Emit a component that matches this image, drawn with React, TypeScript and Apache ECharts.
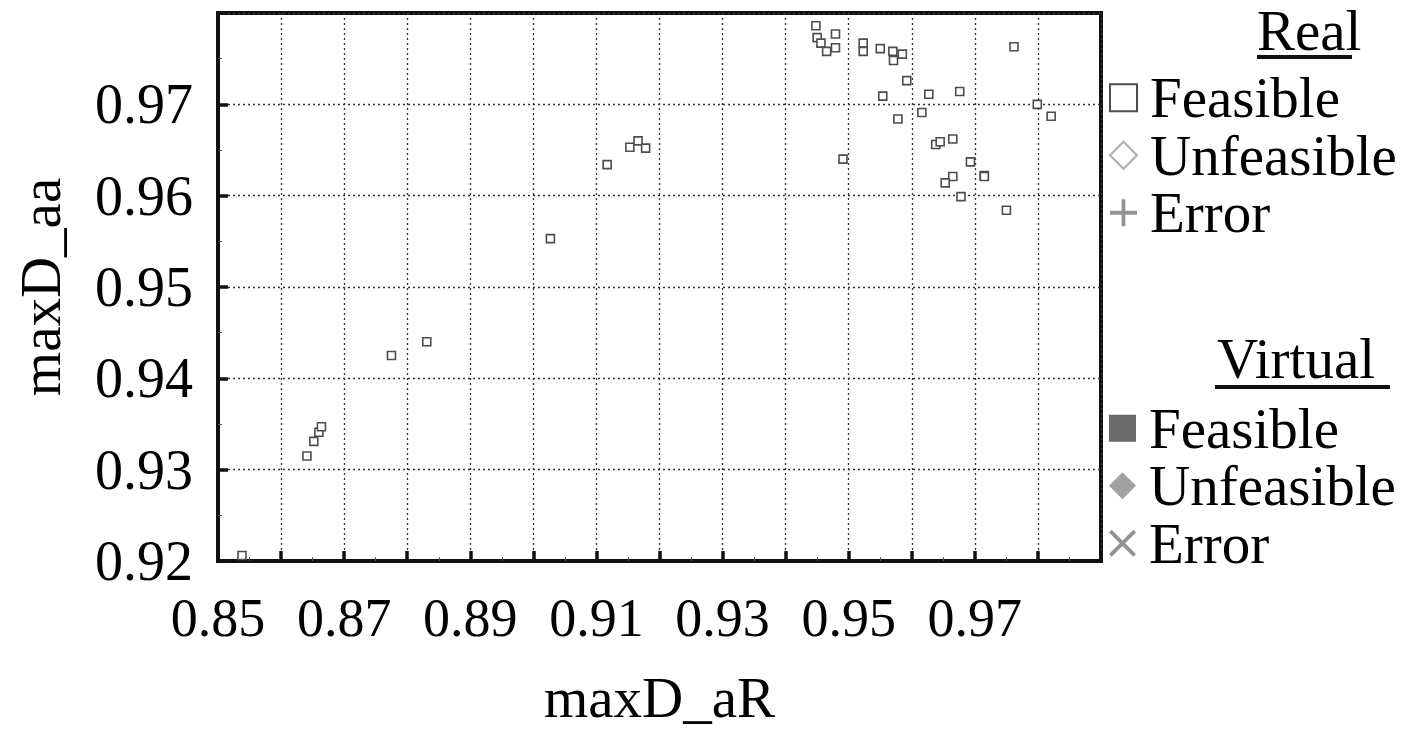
import React, { useEffect, useRef } from "react";
import * as echarts from "echarts";

// Real / Feasible observations (maxD_aR, maxD_aa)
const realFeasibleAR = [
  0.8538, 0.8641, 0.8652, 0.8660, 0.8664, 0.8775, 0.8831, 0.9027, 0.9117, 0.9153,
  0.9166, 0.9178, 0.9448, 0.9450, 0.9456, 0.9465, 0.9479, 0.9479, 0.9523, 0.9523,
  0.9550, 0.9570, 0.9571, 0.9585, 0.9592, 0.9554, 0.9627, 0.9676, 0.9762, 0.9799,
  0.9821, 0.9616, 0.9578, 0.9638, 0.9645, 0.9665, 0.9491, 0.9693, 0.9665, 0.9653,
  0.9715, 0.9715, 0.9678, 0.9750,
];
const realFeasibleAA = [
  0.9206, 0.9315, 0.9331, 0.9341, 0.9347, 0.9425, 0.9440, 0.9553, 0.9634, 0.9653,
  0.9660, 0.9652, 0.9786, 0.9773, 0.9767, 0.9758, 0.9777, 0.9762, 0.9767, 0.9758,
  0.9761, 0.9758, 0.9748, 0.9755, 0.9726, 0.9709, 0.9711, 0.9714, 0.9763, 0.9700,
  0.9687, 0.9691, 0.9684, 0.9656, 0.9659, 0.9662, 0.9640, 0.9637, 0.9621, 0.9614,
  0.9622, 0.9621, 0.9599, 0.9584,
];
// No observations in the other groups
const realUnfeasible: number[][] = [];
const realError: number[][] = [];
const virtualFeasible: number[][] = [];
const virtualUnfeasible: number[][] = [];
const virtualError: number[][] = [];

const groupTitles = ["Real", "Virtual"];
const xLabelValues = [0.85, 0.87, 0.89, 0.91, 0.93, 0.95, 0.97];
const yLabelValues = [0.92, 0.93, 0.94, 0.95, 0.96, 0.97];

const FONT = "'Liberation Serif', 'Times New Roman', serif";
const PLUS = "path://M4.3,0H5.7V4.3H10V5.7H5.7V10H4.3V5.7H0V4.3H4.3Z";
const CROSS = "path://M1,0L5,4L9,0L10,1L6,5L10,9L9,10L5,6L1,10L0,9L4,5L0,1Z";

export default function App() {
  const ref = useRef<HTMLDivElement>(null);
  useEffect(() => {
    if (!ref.current) return;
    const chart = echarts.init(ref.current, undefined, { renderer: "svg" });
    const realData = realFeasibleAR.map((x, i) => [x, realFeasibleAA[i]]);
    const near = (v: number, list: number[]) => list.some((l) => Math.abs(l - v) < 1e-6);

    const legendText = {
      fontFamily: FONT,
      fontSize: 57,
      color: "#000",
      lineHeight: 57.5,
      padding: [0, 0, 0, 8],
    };
    const legendBase = {
      orient: "vertical",
      left: 1109,
      padding: 0,
      itemGap: 0,
      itemWidth: 27,
      itemHeight: 27,
      selectedMode: false,
      textStyle: legendText,
    };

    chart.setOption({
      animation: false,
      backgroundColor: "#fff",
      grid: {
        left: 218,
        top: 13,
        width: 883,
        height: 549,
        show: true,
        borderColor: "#111",
        borderWidth: 4,
        backgroundColor: "transparent",
      },
      xAxis: {
        type: "value",
        min: 0.85,
        max: 0.99,
        interval: 0.01,
        name: "maxD_aR",
        nameLocation: "middle",
        nameGap: 108,
        nameTextStyle: { fontFamily: FONT, fontSize: 57, color: "#000" },
        axisLine: { show: true, lineStyle: { color: "#111", width: 4 } },
        axisTick: { show: true, inside: true, length: 10, lineStyle: { color: "#111", width: 3.5 } },
        minorTick: { show: true, splitNumber: 2, length: 4, lineStyle: { color: "#555", width: 1 } },
        splitLine: { show: true, lineStyle: { color: "#333", width: 1.3, type: [2, 3] } },
        axisLabel: {
          fontFamily: FONT,
          fontSize: 54,
          color: "#000",
          margin: 30,
          showMaxLabel: false,
          formatter: (v: number) => (near(v, xLabelValues) ? v.toFixed(2) : ""),
        },
      },
      yAxis: {
        type: "value",
        min: 0.92,
        max: 0.98,
        interval: 0.01,
        name: "maxD_aa",
        nameLocation: "middle",
        nameGap: 149,
        nameRotate: 90,
        nameTextStyle: { fontFamily: FONT, fontSize: 57, color: "#000" },
        axisLine: { show: true, lineStyle: { color: "#111", width: 4 } },
        axisTick: { show: true, inside: true, length: 10, lineStyle: { color: "#111", width: 3.5 } },
        minorTick: { show: true, splitNumber: 2, length: 4, lineStyle: { color: "#555", width: 1 } },
        splitLine: { show: true, lineStyle: { color: "#333", width: 1.3, type: [2, 3] } },
        axisLabel: {
          fontFamily: FONT,
          fontSize: 56,
          color: "#000",
          margin: 25,
          formatter: (v: number) => (near(v, yLabelValues) ? v.toFixed(2) : ""),
        },
      },
      legend: [
        {
          ...legendBase,
          top: 69,
          data: ["Real Feasible", "Real Unfeasible", "Real Error"],
          formatter: (n: string) => n.replace(/^Real /, ""),
        },
        {
          ...legendBase,
          top: 399.5,
          data: ["Virtual Feasible", "Virtual Unfeasible", "Virtual Error"],
          formatter: (n: string) => n.replace(/^Virtual /, ""),
        },
      ],
      graphic: [
        {
          type: "text",
          x: 1257,
          y: 30,
          style: {
            text: groupTitles[0],
            fontFamily: FONT,
            fontSize: 57,
            lineHeight: 57,
            fill: "#000",
            verticalAlign: "middle",
          },
        },
        { type: "line", shape: { x1: 1257, y1: 57, x2: 1352, y2: 57 }, style: { stroke: "#111", lineWidth: 4 } },
        {
          type: "text",
          x: 1217,
          y: 358,
          style: {
            text: groupTitles[1],
            fontFamily: FONT,
            fontSize: 57,
            lineHeight: 57,
            fill: "#000",
            verticalAlign: "middle",
          },
        },
        { type: "line", shape: { x1: 1215, y1: 387, x2: 1390, y2: 387 }, style: { stroke: "#111", lineWidth: 4 } },
      ],
      series: [
        {
          name: "Real Feasible",
          type: "scatter",
          symbol: "rect",
          symbolSize: 8,
          itemStyle: { color: "#fff", borderColor: "#4d4d4d", borderWidth: 1.6, opacity: 1 },
          data: realData,
          z: 5,
        },
        {
          name: "Real Unfeasible",
          type: "scatter",
          symbol: "diamond",
          symbolSize: 10,
          itemStyle: { color: "#fff", borderColor: "#9a9a9a", borderWidth: 1.6 },
          data: realUnfeasible,
        },
        {
          name: "Real Error",
          type: "scatter",
          symbol: PLUS,
          symbolSize: 10,
          itemStyle: { color: "#777" },
          data: realError,
        },
        {
          name: "Virtual Feasible",
          type: "scatter",
          symbol: "rect",
          symbolSize: 8,
          itemStyle: { color: "#444" },
          data: virtualFeasible,
        },
        {
          name: "Virtual Unfeasible",
          type: "scatter",
          symbol: "diamond",
          symbolSize: 10,
          itemStyle: { color: "#8a8a8a" },
          data: virtualUnfeasible,
        },
        {
          name: "Virtual Error",
          type: "scatter",
          symbol: CROSS,
          symbolSize: 10,
          itemStyle: { color: "#777" },
          data: virtualError,
        },
      ],
    });
    return () => chart.dispose();
  }, []);
  return (
    <div
      ref={ref}
      style={{ position: "absolute", left: 0, top: 0, width: 1417, height: 731, background: "#fff" }}
    />
  );
}
